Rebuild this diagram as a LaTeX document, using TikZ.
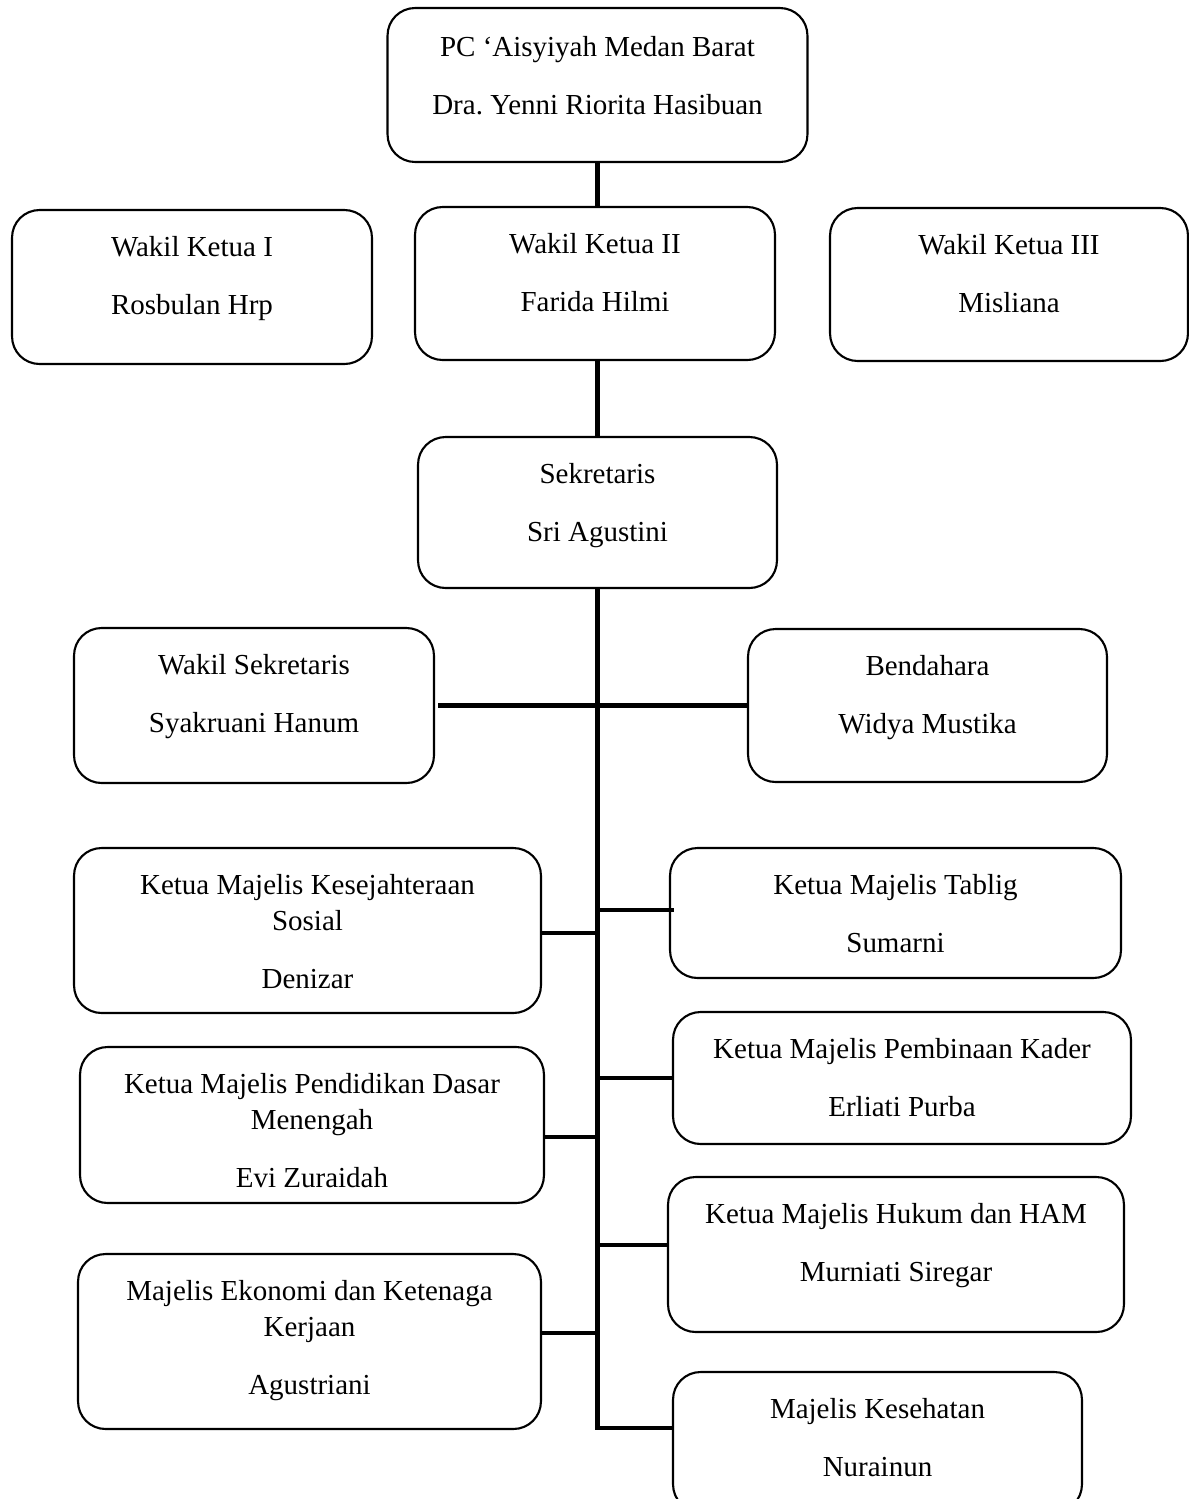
\documentclass[tikz,border=0pt]{standalone}
\usepackage{fontspec}
\setmainfont{Liberation Serif}
\usetikzlibrary{positioning, calc}

\begin{document}
\begin{tikzpicture}[
  x=0.02cm, y=-0.02cm,
  font=\fontsize{16.5}{20.5}\selectfont,
  box/.style={draw, rounded corners=0.55cm, line width=1.2pt, inner sep=0pt},
  txt/.style={anchor=north, align=center, inner sep=0pt, yshift=-0.54cm},
  link/.style={line width=2.3pt}
]
  \useasboundingbox (0,0) rectangle (1189,1499);

  % Ketua
  \node[box, minimum width=8.4cm, minimum height=3.08cm] (ketua) at (597.5,85) {};
  \node[txt, yshift=-0.04cm] (ketua-t) at (ketua.north) {PC ‘Aisyiyah Medan Barat\\[12.5pt] Dra.\ Yenni Riorita Hasibuan};

  % Wakil ketua
  \node[box, minimum width=7.2cm, minimum height=3.08cm] (wk1) at (192,287) {};
  \node[txt] (wk1-t) at (wk1.north) {Wakil Ketua I\\[12.5pt] Rosbulan Hrp};
  \node[box, minimum width=7.2cm, minimum height=3.06cm] (wk2) at (595,283.5) {};
  \node[txt] (wk2-t) at (wk2.north) {Wakil Ketua II\\[12.5pt] Farida Hilmi};
  \node[box, minimum width=7.16cm, minimum height=3.06cm] (wk3) at (1009,284.5) {};
  \node[txt] (wk3-t) at (wk3.north) {Wakil Ketua III\\[12.5pt] Misliana};

  % Sekretaris dan bendahara
  \node[box, minimum width=7.18cm, minimum height=3.02cm] (sekr) at (597.5,512.5) {};
  \node[txt] (sekr-t) at (sekr.north) {Sekretaris\\[12.5pt] Sri Agustini};
  \node[box, minimum width=7.2cm, minimum height=3.1cm] (wsekr) at (254,705.5) {};
  \node[txt] (wsekr-t) at (wsekr.north) {Wakil Sekretaris\\[12.5pt] Syakruani Hanum};
  \node[box, minimum width=7.18cm, minimum height=3.06cm] (bend) at (927.5,705.5) {};
  \node[txt] (bend-t) at (bend.north) {Bendahara\\[12.5pt] Widya Mustika};

  % Majelis kiri
  \node[box, minimum width=9.34cm, minimum height=3.3cm] (kesos) at (307.5,930.5) {};
  \node[txt] (kesos-t) at (kesos.north) {Ketua Majelis Kesejahteraan\\ Sosial\\[12.5pt] Denizar};
  \node[box, minimum width=9.28cm, minimum height=3.12cm] (dikdas) at (312,1125) {};
  \node[txt] (dikdas-t) at (dikdas.north) {Ketua Majelis Pendidikan Dasar\\ Menengah\\[12.5pt] Evi Zuraidah};
  \node[box, minimum width=9.26cm, minimum height=3.5cm] (ekon) at (309.5,1341.5) {};
  \node[txt] (ekon-t) at (ekon.north) {Majelis Ekonomi dan Ketenaga\\ Kerjaan\\[12.5pt] Agustriani};

  % Majelis kanan
  \node[box, minimum width=9.02cm, minimum height=2.6cm] (tablig) at (895.5,913) {};
  \node[txt] (tablig-t) at (tablig.north) {Ketua Majelis Tablig\\[12.5pt] Sumarni};
  \node[box, minimum width=9.16cm, minimum height=2.64cm] (kader) at (902,1078) {};
  \node[txt] (kader-t) at (kader.north) {Ketua Majelis Pembinaan Kader\\[12.5pt] Erliati Purba};
  \node[box, minimum width=9.12cm, minimum height=3.1cm] (hukum) at (896,1254.5) {};
  \node[txt] (hukum-t) at (hukum.north) {Ketua Majelis Hukum dan HAM\\[12.5pt] Murniati Siregar};
  \node[box, minimum width=8.18cm, minimum height=2.8cm] (sehat) at (877.5,1442) {};
  \node[txt] (sehat-t) at (sehat.north) {Majelis Kesehatan\\[12.5pt] Nurainun};

  % Garis
  \coordinate (ujung) at (597.5,1428);
  \draw[link] (ketua.south) -- (ketua.south |- wk2.north);
  \draw[link] (sekr.north |- wk2.south) -- (sekr.north);
  \draw[link] (sekr.south) -- (ujung) -- (ujung -| sehat.west);
  \draw[link, shorten <=0.06cm] (wsekr.east) -- (bend.west);
  \draw[link] ([yshift=-0.05cm]kesos.east) coordinate (k1) -- (k1 -| ujung);
  \draw[link] ([yshift=-0.24cm]dikdas.east) coordinate (k2) -- (k2 -| ujung);
  \draw[link] ([yshift=0.17cm]ekon.east) coordinate (k3) -- (k3 -| ujung);
  \draw[link] ([yshift=0.06cm, xshift=0.1cm]tablig.west) coordinate (k4) -- (k4 -| ujung);
  \draw[link] (kader.west) -- (kader.west -| ujung);
  \draw[link] ([yshift=0.19cm]hukum.west) coordinate (k5) -- (k5 -| ujung);
\end{tikzpicture}
\end{document}
